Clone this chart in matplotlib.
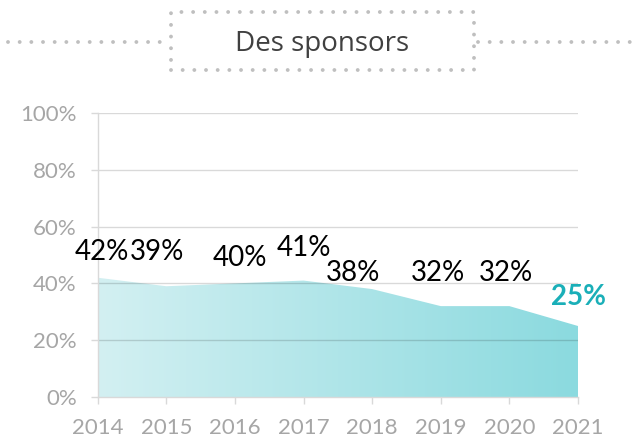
import matplotlib
matplotlib.use("Agg")
import matplotlib.pyplot as plt
import numpy as np
from matplotlib.colors import LinearSegmentedColormap
from matplotlib.patches import Rectangle
from matplotlib.lines import Line2D

years = [2014, 2015, 2016, 2017, 2018, 2019, 2020, 2021]
values = [0.42, 0.39, 0.40, 0.41, 0.38, 0.32, 0.32, 0.25]
labels = ["42%", "39%", "40%", "41%", "38%", "32%", "32%", "25%"]
yticks = [0, 0.2, 0.4, 0.6, 0.8, 1.0]
ytick_labels = ["0%", "20%", "40%", "60%", "80%", "100%"]
title = "Des sponsors"

# label offsets in pixels from the point
offsets = [(4, 26), (-9, 34), (5, 25), (0, 33), (-19, 16), (-3, 33), (-3, 33), (0, 29)]

fig = plt.figure(figsize=(6.34, 4.38), dpi=100)
ax = fig.add_axes([97.7 / 634, 1 - 397 / 438, (578 - 97.7) / 634, (397 - 113) / 438])

# gradient area
poly = ax.fill_between(years, values, 0, color="none", lw=0)
cmap = LinearSegmentedColormap.from_list("g", ["#d3f0f2", "#8bdadf"])
grad = np.linspace(0, 1, 256).reshape(1, -1)
im = ax.imshow(grad, cmap=cmap, extent=[2014, 2021, 0, 1], aspect="auto", zorder=1)
im.set_clip_path(poly.get_paths()[0], transform=ax.transData)

ax.set_xlim(2014, 2021)
ax.set_ylim(0, 1)

for y in yticks[1:]:
    ax.axhline(y, color=(0, 0, 0, 0.15), lw=1, zorder=2)

for s in ["top", "right"]:
    ax.spines[s].set_visible(False)
for s in ["left", "bottom"]:
    ax.spines[s].set_color("#d9d9d9")
    ax.spines[s].set_linewidth(1)
    ax.spines[s].set_zorder(3)

ax.set_xticks(years)
ax.set_xticklabels([str(y) for y in years])
ax.set_yticks(yticks)
ax.set_yticklabels(ytick_labels)
ax.tick_params(axis="both", colors="#d9d9d9", labelcolor="#a6a6a6", length=5, width=1,
               labelsize=16, pad=10)
ax.tick_params(axis="x", pad=10)
for t in ax.get_xticklabels() + ax.get_yticklabels():
    t.set_family("Lato")

for i, (x, v, lab) in enumerate(zip(years, values, labels)):
    last = i == len(years) - 1
    ax.annotate(lab, (x, v), xytext=offsets[i], textcoords="offset pixels",
                ha="center", va="center", fontsize=20, family="Lato",
                color="#1aafb8" if last else "black",
                fontweight="bold" if last else "normal", zorder=5,
                annotation_clip=False)

# title box with dotted border
H = 438.0
W = 634.0
dot = dict(color="#bfbfbf", lw=2.8, linestyle=(0, (0.001, 3.0)), solid_capstyle="round",
           dash_capstyle="round")
box = Rectangle((171 / W, 1 - 70 / H), (474 - 171) / W, (70 - 12) / H, transform=fig.transFigure,
                fill=False, edgecolor="#bfbfbf", lw=2.8, linestyle=(0, (0.001, 3.0)))
box.set_capstyle("round")
fig.add_artist(box)
fig.add_artist(Line2D([8 / W, 165 / W], [1 - 42 / H] * 2, transform=fig.transFigure, **dot))
fig.add_artist(Line2D([478 / W, 632 / W], [1 - 42 / H] * 2, transform=fig.transFigure, **dot))
fig.text(322 / W, 1 - 44 / H, title, ha="center", va="center", fontsize=20,
         family="Open Sans", color="#404040")

fig.savefig("out.png", dpi=100)
